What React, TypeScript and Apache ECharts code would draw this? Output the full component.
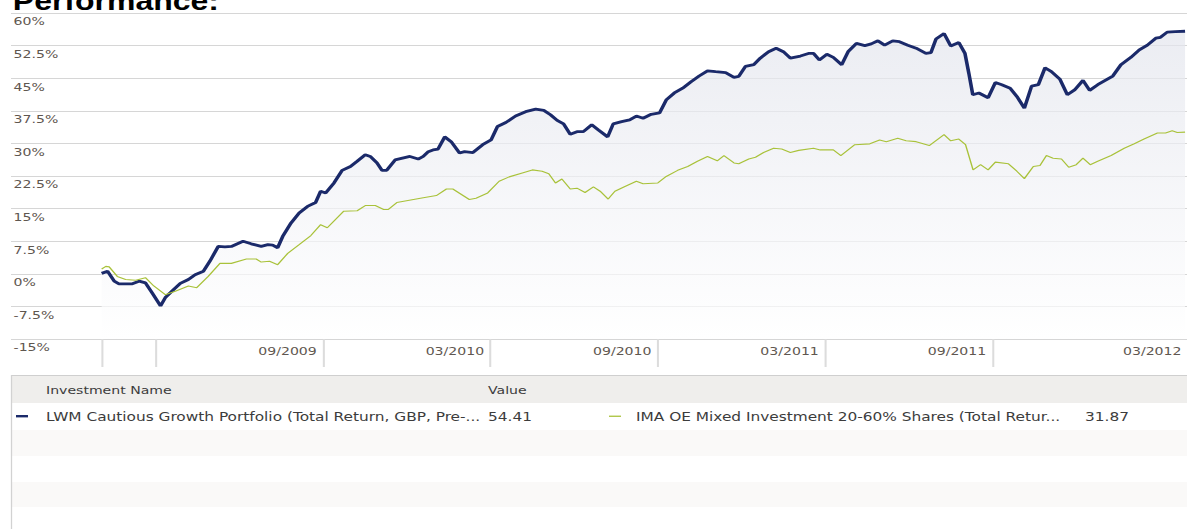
import React, { useEffect, useRef } from "react";
import * as echarts from "echarts";

// ---- data (x = months since 1 Jan 2009, y = cumulative return %) ----
const lwmMonths = [
  0.06, 0.27, 0.51, 0.68, 1.16, 1.4, 1.63, 1.87, 2.17, 2.34,
  2.58, 2.88, 3.17, 3.41, 3.71, 3.94, 4.24, 4.48, 4.71, 5.13,
  5.42, 5.78, 6.02, 6.19, 6.37, 6.55, 6.85, 7.14, 7.44, 7.73,
  7.91, 8.09, 8.39, 8.68, 8.98, 9.22, 9.51, 9.69, 9.93, 10.11,
  10.28, 10.58, 11.11, 11.41, 11.59, 11.77, 11.94, 12.12, 12.36, 12.59,
  12.89, 13.07, 13.37, 13.72, 14.02, 14.25, 14.55, 14.9, 15.26, 15.62,
  15.91, 16.15, 16.39, 16.62, 16.86, 17.1, 17.33, 17.63, 17.87, 18.2,
  18.4, 18.7, 18.99, 19.23, 19.47, 19.76, 20.06, 20.3, 20.59, 20.89,
  21.19, 21.48, 21.78, 22.07, 22.43, 22.73, 22.9, 23.14, 23.44, 23.67,
  23.97, 24.24, 24.5, 24.75, 25.11, 25.4, 25.58, 25.79, 26.06, 26.29,
  26.59, 26.82, 27.12, 27.42, 27.65, 27.89, 28.13, 28.42, 28.66, 28.96,
  29.26, 29.61, 29.79, 29.97, 30.26, 30.5, 30.79, 31.01, 31.15, 31.29,
  31.51, 31.84, 32.1, 32.33, 32.63, 32.87, 33.14, 33.4, 33.64, 33.88,
  34.11, 34.41, 34.68, 34.94, 35.24, 35.48, 35.77, 36.07, 36.31, 36.6,
  36.96, 37.26, 37.55, 37.85, 38.02, 38.26, 38.55, 38.9,
];
const lwmValues = [
  0.1, 0.6, -1.7, -2.3, -2.3, -1.7, -2.1, -4.4, -7.4, -5.5,
  -4.0, -2.2, -1.3, -0.2, 0.6, 2.9, 6.3, 6.2, 6.3, 7.5,
  6.9, 6.3, 6.7, 6.6, 6.0, 8.6, 11.7, 14.0, 15.5, 16.4,
  19.0, 18.6, 20.9, 23.8, 24.7, 25.9, 27.4, 27.0, 25.5, 23.8,
  23.8, 26.2, 27.0, 26.4, 27.0, 28.1, 28.5, 28.7, 31.5, 30.4,
  27.8, 28.1, 27.9, 29.7, 30.8, 33.9, 34.8, 36.3, 37.3, 37.9,
  37.6, 36.6, 35.3, 34.5, 32.1, 32.7, 32.7, 34.3, 33.1, 31.5,
  34.5, 35.0, 35.4, 36.3, 35.8, 36.7, 37.0, 40.0, 41.6, 42.7,
  44.2, 45.5, 46.7, 46.5, 46.3, 45.2, 45.4, 47.7, 48.1, 49.6,
  51.1, 51.9, 51.1, 49.6, 50.1, 50.7, 50.7, 49.2, 50.5, 49.8,
  48.1, 51.1, 53.0, 52.5, 52.9, 53.6, 52.6, 53.6, 53.4, 52.6,
  51.9, 50.7, 50.9, 54.0, 55.3, 52.4, 53.2, 50.7, 46.1, 41.2,
  41.6, 40.5, 44.0, 43.5, 42.7, 40.8, 38.1, 43.2, 43.5, 47.4,
  46.5, 44.8, 41.2, 42.3, 44.5, 42.2, 43.5, 44.6, 45.5, 48.1,
  49.8, 51.5, 52.6, 54.2, 54.4, 55.6, 55.7, 55.8,
];
const imaMonths = [
  0.06, 0.21, 0.33, 0.62, 0.92, 1.28, 1.63, 1.93, 2.34, 2.7,
  3.17, 3.47, 3.88, 4.3, 4.71, 5.25, 5.6, 5.78, 6.08, 6.37,
  6.73, 7.14, 7.56, 7.91, 8.15, 8.74, 9.22, 9.51, 9.87, 10.17,
  10.34, 10.64, 11.59, 12.06, 12.42, 12.65, 13.24, 13.48, 13.9, 14.31,
  14.67, 15.14, 15.5, 15.85, 16.09, 16.33, 16.56, 16.86, 17.1, 17.39,
  17.69, 17.93, 18.22, 18.46, 18.82, 19.23, 19.47, 20.0, 20.3, 20.71,
  21.07, 21.42, 21.78, 22.13, 22.37, 22.73, 22.9, 23.26, 23.5, 23.79,
  24.15, 24.44, 24.75, 25.05, 25.58, 25.82, 26.29, 26.56, 27.06, 27.6,
  27.95, 28.19, 28.6, 28.9, 29.26, 29.73, 30.26, 30.5, 30.79, 31.03,
  31.3, 31.57, 31.84, 32.1, 32.57, 32.87, 33.14, 33.46, 33.7, 33.93,
  34.17, 34.47, 34.73, 35.0, 35.24, 35.5, 35.77, 36.25, 36.72, 37.08,
  37.43, 37.91, 38.2, 38.44, 38.62, 38.9,
];
const imaValues = [
  1.1, 1.7, 1.6, -0.6, -1.3, -1.5, -0.9, -2.8, -4.8, -4.0,
  -2.8, -3.2, -0.6, 2.4, 2.4, 3.4, 3.4, 2.7, 2.9, 2.1,
  4.7, 6.7, 8.8, 11.3, 10.6, 14.4, 14.5, 15.7, 15.7, 14.8,
  14.8, 16.4, 17.5, 18.0, 19.5, 19.5, 17.1, 17.4, 18.6, 21.3,
  22.3, 23.2, 23.9, 23.6, 23.0, 20.9, 21.8, 19.5, 19.7, 18.7,
  20.0, 19.0, 17.2, 19.0, 20.1, 21.3, 20.7, 20.9, 22.4, 23.8,
  24.7, 25.9, 27.0, 26.0, 27.2, 25.5, 25.3, 26.4, 26.8, 27.9,
  28.9, 28.7, 27.9, 28.4, 28.9, 28.5, 28.5, 27.2, 29.7, 29.9,
  30.8, 30.4, 31.2, 30.6, 30.4, 29.5, 32.0, 30.6, 31.0, 29.7,
  23.9, 25.1, 23.9, 25.7, 25.3, 23.6, 21.9, 24.7, 24.9, 27.2,
  26.6, 26.4, 24.5, 25.1, 26.6, 25.1, 25.9, 27.2, 28.9, 29.9,
  31.0, 32.4, 32.4, 32.9, 32.5, 32.6,
];
const separatorMonths = [0.06, 2, 8, 14, 20, 26, 32];
const labelMonths = [8, 14, 20, 26, 32, 39];
const tickLabels = ["09/2009", "03/2010", "09/2010", "03/2011", "09/2011", "03/2012"];
const seriesNames = [
  "LWM Cautious Growth Portfolio (Total Return, GBP, Pre-...",
  "IMA OE Mixed Investment 20-60% Shares (Total Retur...",
];
const lastValues = ["54.41", "31.87"];
const yMin = -15;
const yMax = 60;
const yStep = 7.5;
const xMin = -3.19;
const xMax = 39;

// ---- layout / style ----
const STRETCH = 1.28;
const INNER_W = 928;
const H = 529;
const BLUE = "#1b2a6a";
const GREEN = "#a9c23a";
const FONT = "DejaVu Sans";
const AXIS_TEXT = "#5f5750";
const TABLE_TEXT = "#3c3c3c";
const px = (refX: number) => refX / STRETCH;

export default function App() {
  const ref = useRef<HTMLDivElement>(null);

  useEffect(() => {
    if (!ref.current) return;
    const chart = echarts.init(ref.current, null, { renderer: "svg" });

    const option: any = {
      animation: false,
      backgroundColor: "#ffffff",
      grid: { left: px(11), right: INNER_W - px(1198), top: 13, bottom: H - 339, containLabel: false },
      xAxis: {
        type: "value",
        min: xMin,
        max: xMax,
        axisLine: { show: false, onZero: false },
        splitLine: { show: false },
        axisTick: {
          show: true,
          customValues: separatorMonths,
          length: 28,
          lineStyle: { color: "#dcdcdc", width: 1.6 },
        },
        axisLabel: {
          customValues: labelMonths,
          formatter: (v: number) => {
            const i = labelMonths.findIndex((m) => Math.abs(m - v) < 1e-6);
            return i >= 0 ? tickLabels[i] : "";
          },
          align: "right",
          padding: [0, 5, 0, 0],
          margin: 7,
          fontFamily: FONT,
          fontSize: 11,
          color: AXIS_TEXT,
        },
      },
      yAxis: {
        type: "value",
        min: yMin,
        max: yMax,
        interval: yStep,
        axisLine: { show: false },
        axisTick: { show: false },
        splitLine: { show: true, lineStyle: { color: "#d6d6d6", width: 1.2 } },
        axisLabel: {
          inside: true,
          margin: 2,
          align: "left",
          verticalAlign: "top",
          padding: [3, 0, 0, 0],
          formatter: (v: number) => `${v}%`,
          fontFamily: FONT,
          fontSize: 11,
          color: AXIS_TEXT,
        },
      },
      series: [
        {
          name: seriesNames[0],
          type: "line",
          data: lwmMonths.map((m, i) => [m, lwmValues[i]]),
          showSymbol: false,
          symbol: "none",
          z: 2,
          lineStyle: { color: BLUE, width: 2.8 },
          areaStyle: {
            origin: "start",
            color: new echarts.graphic.LinearGradient(0, 0, 0, 1, [
              { offset: 0, color: "#e3e5ed" },
              { offset: 1, color: "#ffffff" },
            ]),
          },
        },
        {
          name: seriesNames[1],
          type: "line",
          data: imaMonths.map((m, i) => [m, imaValues[i]]),
          showSymbol: false,
          symbol: "none",
          z: 3,
          lineStyle: { color: GREEN, width: 1.1 },
        },
      ],
      graphic: [
        {
          type: "text",
          x: 10,
          y: 1,
          style: {
            text: "Performance:",
            font: 'bold 25px "Liberation Sans"',
            fill: "#000000",
            verticalAlign: "middle",
          },
        },
        {
          type: "rect",
          shape: { x: px(12), y: 376, width: INNER_W, height: 27 },
          style: { fill: "#efeeec" },
        },
        {
          type: "rect",
          shape: { x: px(12), y: 430, width: INNER_W, height: 26 },
          style: { fill: "#faf9f8" },
        },
        {
          type: "rect",
          shape: { x: px(12), y: 482, width: INNER_W, height: 25 },
          style: { fill: "#faf9f8" },
        },
        {
          type: "line",
          shape: { x1: px(11), y1: 375.5, x2: INNER_W + 10, y2: 375.5 },
          style: { stroke: "#cfcfcf", lineWidth: 1 },
        },
        {
          type: "line",
          shape: { x1: px(11.5), y1: 375, x2: px(11.5), y2: H },
          style: { stroke: "#d2d2d2", lineWidth: 1 },
        },
        {
          type: "text",
          x: px(46),
          y: 390.5,
          style: { text: "Investment Name", font: `11px "${FONT}"`, fill: TABLE_TEXT, verticalAlign: "middle" },
        },
        {
          type: "text",
          x: px(488),
          y: 390.5,
          style: { text: "Value", font: `11px "${FONT}"`, fill: TABLE_TEXT, verticalAlign: "middle" },
        },
        {
          type: "rect",
          shape: { x: px(16), y: 415, width: px(12), height: 2.4 },
          style: { fill: BLUE },
        },
        {
          type: "text",
          x: px(46),
          y: 416.5,
          style: { text: seriesNames[0], font: `12px "${FONT}"`, fill: TABLE_TEXT, verticalAlign: "middle" },
        },
        {
          type: "text",
          x: px(488),
          y: 416.5,
          style: { text: lastValues[0], font: `12px "${FONT}"`, fill: TABLE_TEXT, verticalAlign: "middle" },
        },
        {
          type: "rect",
          shape: { x: px(609), y: 415.6, width: px(12), height: 1.3 },
          style: { fill: GREEN },
        },
        {
          type: "text",
          x: px(636),
          y: 416.5,
          style: { text: seriesNames[1], font: `12px "${FONT}"`, fill: TABLE_TEXT, verticalAlign: "middle" },
        },
        {
          type: "text",
          x: px(1085),
          y: 416.5,
          style: { text: lastValues[1], font: `12px "${FONT}"`, fill: TABLE_TEXT, verticalAlign: "middle" },
        },
      ],
    };

    chart.setOption(option);
    return () => chart.dispose();
  }, []);

  return (
    <div
      style={{
        position: "fixed",
        left: 0,
        top: 0,
        width: 1187,
        height: H,
        overflow: "hidden",
        background: "#ffffff",
      }}
    >
      <div
        ref={ref}
        style={{
          width: INNER_W,
          height: H,
          transform: `scaleX(${STRETCH})`,
          transformOrigin: "0 0",
        }}
      />
    </div>
  );
}
